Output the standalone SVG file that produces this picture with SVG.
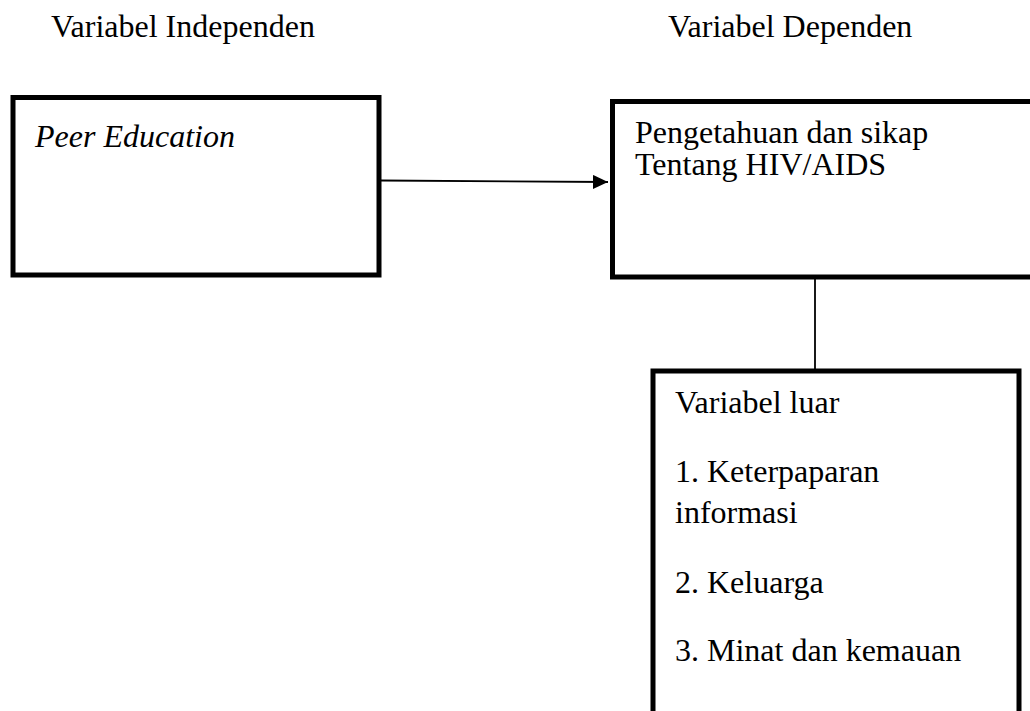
<svg xmlns="http://www.w3.org/2000/svg" width="1030" height="711" viewBox="0 0 1030 711">
<style>
  .t { font-family: "Liberation Serif", "Times New Roman", serif; font-size: 32px; fill: #000; }
  .it { font-style: italic; }
  .box { fill: #fff; stroke: #000; stroke-width: 5; }
  .con { stroke: #000; stroke-width: 1.8; fill: none; }
</style>
<defs>
  <marker id="ah" markerUnits="userSpaceOnUse" markerWidth="16" markerHeight="16" refX="15" refY="7" orient="auto">
    <path d="M0,0 L15,7 L0,14 Z" fill="#000"/>
  </marker>
</defs>
<rect width="1030" height="711" fill="#fff"/>
<g id="title-independen"><text class="t" x="51" y="37">Variabel Independen</text></g>
<g id="title-dependen"><text class="t" x="668" y="37">Variabel Dependen</text></g>
<g id="connectors">
  <path class="con" d="M381,180.5 L608,182" marker-end="url(#ah)"/>
  <path class="con" d="M815,279 L815,369"/>
</g>
<g id="node-peer">
  <rect class="box" x="13" y="97.5" width="366" height="177.5"/>
  <text class="t it" x="35" y="147">Peer Education</text>
</g>
<g id="node-pengetahuan">
  <rect class="box" x="612.5" y="101.5" width="430" height="175.5"/>
  <text class="t" x="635" y="143"><tspan x="635" y="143">Pengetahuan dan sikap</tspan><tspan x="635" y="174.5">Tentang HIV/AIDS</tspan></text>
</g>
<g id="node-luar">
  <rect class="box" x="653" y="371" width="366" height="360"/>
  <text class="t" x="675" y="413">Variabel luar</text>
  <text class="t" x="675" y="482"><tspan x="675" y="482">1. Keterpaparan</tspan><tspan x="675" y="523">informasi</tspan></text>
  <text class="t" x="675" y="593">2. Keluarga</text>
  <text class="t" x="675" y="661">3. Minat dan kemauan</text>
</g>
</svg>
